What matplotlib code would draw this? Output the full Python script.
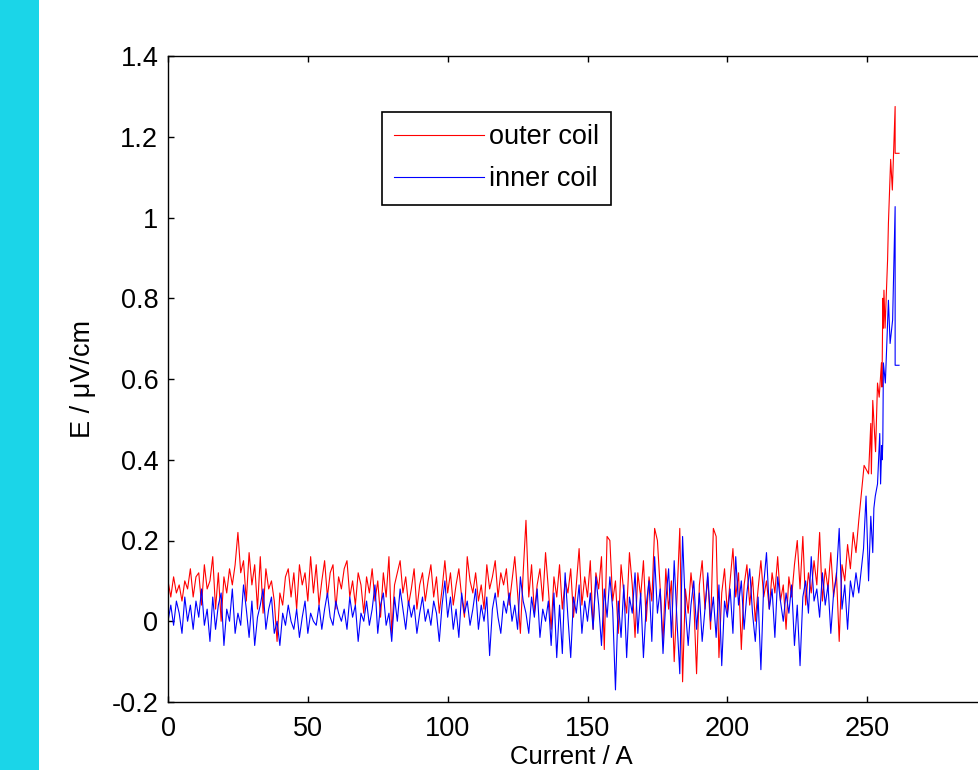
import numpy as np
import matplotlib
matplotlib.use("Agg")
import matplotlib.pyplot as plt
from matplotlib.patches import Rectangle
from matplotlib.ticker import FuncFormatter

plt.rcParams['font.family'] = ['Liberation Sans', 'DejaVu Sans']
plt.rcParams['axes.unicode_minus'] = False

# ---------------- data ----------------
# noisy part, sampled every 1 A from 0 A
e_outer_noise = [
    0.10, 0.06, 0.11, 0.07, 0.09, 0.05, 0.10, 0.08, 0.13, 0.06,
    0.11, 0.12, 0.04, 0.14, 0.08, 0.10, 0.16, 0.03, 0.12, 0.00,
    0.11, 0.07, 0.13, 0.09, 0.14, 0.22, 0.12, 0.15, 0.05, 0.17,
    0.09, 0.14, 0.03, 0.16, 0.02, 0.13, 0.08, 0.10, 0.05, -0.05,
    0.07, 0.04, 0.11, 0.13, 0.06, 0.12, 0.03, 0.14, 0.09, 0.12,
    0.05, 0.16, 0.07, 0.14, 0.04, 0.10, 0.15, 0.06, 0.12, 0.14,
    0.03, 0.11, 0.08, 0.13, 0.15, 0.06, 0.10, 0.04, 0.12, 0.09,
    0.02, 0.11, 0.07, 0.13, 0.05, 0.10, 0.01, 0.12, 0.06, 0.16,
    -0.03, 0.09, 0.12, 0.15, 0.07, 0.11, 0.04, 0.08, 0.13, 0.03,
    0.09, 0.12, 0.05, 0.10, 0.14, 0.06, 0.11, 0.02, 0.08, 0.15,
    0.07, 0.12, 0.04, 0.09, 0.13, 0.06, 0.01, 0.16, 0.10, 0.07,
    0.12, 0.05, 0.09, 0.03, 0.14, 0.08, 0.11, 0.15, 0.06, 0.12,
    0.09, 0.13, 0.04, 0.10, 0.16, 0.07, -0.03, 0.12, 0.25, 0.06,
    0.14, 0.02, 0.09, 0.13, 0.05, 0.17, 0.08, -0.02, 0.11, 0.06,
    0.14, 0.03, 0.10, 0.07, 0.13, 0.01, 0.09, 0.18, 0.04, 0.11,
    0.06, 0.15, -0.02, 0.12, 0.08, 0.16, -0.07, 0.21, 0.20, 0.05,
    0.10, -0.03, 0.14, 0.07, 0.02, 0.17, 0.09, -0.04, 0.12, 0.06,
    0.15, 0.00, 0.11, 0.05, 0.23, 0.20, 0.08, -0.05, 0.13, 0.03,
    0.10, -0.10, 0.06, 0.23, -0.15, 0.08, 0.02, 0.12, 0.05, -0.13,
    0.09, 0.15, 0.03, 0.11, -0.02, 0.23, 0.21, -0.09, 0.07, 0.13,
    0.02, 0.10, 0.18, 0.06, 0.12, -0.07, 0.09, 0.14, 0.04, 0.11,
    0.00, 0.08, 0.15, 0.06, 0.10, 0.03, 0.12, 0.07, 0.16, 0.05,
    0.09, -0.02, 0.11, 0.06, 0.14, 0.20, 0.08, 0.21, 0.04, 0.12,
    0.07, 0.15, 0.09, 0.22, 0.05, 0.13, 0.08, 0.17, 0.06, 0.12,
    -0.05, 0.14, 0.10, 0.19, 0.13, 0.22, 0.17, 0.25,
]
e_inner_noise = [
    0.00, 0.04, -0.01, 0.05, 0.02, -0.03, 0.06, 0.00, 0.04, -0.02,
    0.05, 0.01, 0.08, -0.01, 0.03, -0.05, 0.06, -0.02, 0.04, 0.07,
    -0.06, 0.03, 0.00, 0.08, -0.03, 0.02, -0.01, 0.09, 0.03, -0.04,
    0.05, -0.06, 0.01, 0.04, 0.08, -0.02, 0.03, 0.06, -0.03, 0.00,
    -0.06, 0.02, -0.01, 0.04, 0.00, -0.02, 0.03, -0.04, 0.01, 0.05,
    -0.03, 0.02, 0.00, -0.01, 0.04, -0.02, 0.03, 0.07, 0.01, -0.01,
    0.05, 0.02, 0.00, 0.03, -0.02, 0.06, 0.01, 0.04, -0.05, 0.02,
    0.00, 0.05, -0.01, 0.03, 0.09, -0.03, 0.04, 0.07, -0.01, 0.02,
    -0.05, 0.06, 0.00, 0.08, 0.03, -0.02, 0.05, 0.01, 0.04, -0.03,
    0.02, 0.06, 0.00, 0.03, -0.01, 0.05, 0.02, -0.05, 0.04, 0.10,
    0.01, 0.06, -0.02, 0.03, -0.04, 0.07, 0.02, 0.05, -0.01, 0.03,
    0.08, -0.02, 0.04, 0.00, 0.06, -0.085, 0.03, 0.07, 0.01, -0.03,
    0.05, 0.02, 0.07, 0.00, 0.04, -0.02, 0.11, 0.05, 0.02, -0.03,
    0.06, 0.01, 0.08, -0.04, 0.03, 0.00, 0.05, -0.06, 0.07, -0.09,
    0.04, -0.08, 0.12, 0.01, -0.09, 0.06, 0.02, 0.09, -0.03, 0.05,
    0.00, 0.07, -0.02, 0.11, 0.04, -0.06, 0.08, 0.01, 0.11, 0.03,
    -0.17, 0.05, -0.04, 0.09, -0.09, 0.06, 0.02, 0.12, -0.03, 0.07,
    -0.09, 0.04, 0.10, -0.05, 0.16, 0.02, 0.08, -0.08, 0.05, 0.13,
    -0.04, 0.15, 0.00, -0.13, 0.21, 0.03, -0.06, 0.04, 0.10, -0.02,
    0.07, -0.05, 0.03, 0.12, 0.00, 0.06, -0.04, 0.09, -0.11, 0.05,
    0.01, 0.08, -0.03, 0.16, 0.04, 0.10, -0.02, 0.07, 0.13, 0.02,
    -0.05, 0.06, -0.12, 0.09, 0.17, 0.03, 0.08, -0.04, 0.11, 0.05,
    0.00, 0.07, 0.02, 0.09, -0.06, 0.04, -0.11, 0.06, 0.10, 0.02,
    0.16, 0.05, 0.08, 0.01, 0.12, 0.04, 0.09, -0.03, 0.07, 0.11,
    0.23, 0.03, 0.09, -0.02, 0.10, 0.06, 0.12, 0.07,
]

# transition (quench) part, read point by point
i_outer_tail = [248.9, 250.5, 251.3, 251.5, 252.0, 253.0, 253.7, 254.3, 255.1, 255.3,
                255.6, 255.8, 256.0, 256.4, 257.3, 257.6, 258.4, 259.0, 260.0, 260.0, 261.4]
e_outer_tail = [0.386, 0.365, 0.49, 0.365, 0.547, 0.42, 0.59, 0.555, 0.64, 0.58,
                0.80, 0.726, 0.82, 0.726, 0.895, 0.986, 1.144, 1.068, 1.275, 1.159, 1.159]
i_inner_tail = [248.7, 249.6, 250.5, 251.3, 252.0, 252.4, 252.9, 253.7, 254.5, 254.8,
                255.2, 255.4, 255.6, 255.8, 256.5, 257.6, 258.2, 259.1, 260.0, 260.0, 261.4]
e_inner_tail = [0.18, 0.31, 0.10, 0.26, 0.17, 0.28, 0.31, 0.34, 0.465, 0.34,
                0.435, 0.40, 0.448, 0.64, 0.59, 0.795, 0.688, 0.746, 1.027, 0.634, 0.634]

labels = ["outer coil", "inner coil"]
x_ticks = [0, 50, 100, 150, 200, 250, 300]
y_ticks = [-0.2, 0, 0.2, 0.4, 0.6, 0.8, 1, 1.2, 1.4]

i_outer = np.concatenate([np.arange(len(e_outer_noise)), i_outer_tail])
e_outer = np.concatenate([e_outer_noise, e_outer_tail])
i_inner = np.concatenate([np.arange(len(e_inner_noise)), i_inner_tail])
e_inner = np.concatenate([e_inner_noise, e_inner_tail])

# ---------------- figure ----------------
W, H = 979, 770
FS = 19.5
fig = plt.figure(figsize=(W / 100, H / 100), dpi=100)
fig.patch.set_facecolor('white')
fig.patches.append(Rectangle((0, 0), 39 / W, 1, transform=fig.transFigure,
                             facecolor='#1BD5E8', edgecolor='none', zorder=0))

ax_left, ax_right, ax_top, ax_bot = 168, 1007, 56, 702
ax = fig.add_axes([ax_left / W, 1 - ax_bot / H, (ax_right - ax_left) / W, (ax_bot - ax_top) / H])

ax.plot(i_outer, e_outer, color='#FF0000', lw=0.8, label=labels[0])
ax.plot(i_inner, e_inner, color='#0000FF', lw=0.8, label=labels[1])

ax.set_xlim(0, 300)
ax.set_ylim(-0.2, 1.4)
ax.set_xticks(x_ticks)
ax.set_yticks(y_ticks)
ax.yaxis.set_major_formatter(FuncFormatter(lambda v, p: '%g' % round(v, 2)))
ax.xaxis.set_major_formatter(FuncFormatter(lambda v, p: '%g' % v))
ax.tick_params(direction='in', top=True, right=True, length=4, width=1,
               labelsize=FS, colors='black')
ax.tick_params(axis='x', pad=10)
ax.tick_params(axis='y', pad=7)
for s in ax.spines.values():
    s.set_linewidth(1.0)
    s.set_color('black')

ax.set_xlabel('Current / A', fontsize=18.5)
ax.xaxis.set_label_coords((571 - ax_left) / (ax_right - ax_left), -(757 - ax_bot) / (ax_bot - ax_top))
ax.xaxis.label.set_va('center')
ax.set_ylabel('E / μV/cm', fontsize=FS)
ax.yaxis.set_label_coords(-(168 - 83) / (ax_right - ax_left), 0.5)
ax.yaxis.label.set_va('center')

leg = ax.legend(loc='upper left',
                bbox_to_anchor=(382 / W, 1 - 112 / H), bbox_transform=fig.transFigure,
                fontsize=FS, frameon=True, fancybox=False, framealpha=1,
                edgecolor='black', handlelength=3.3, handletextpad=0.2,
                borderpad=0.45, labelspacing=0.6, borderaxespad=0)
leg.get_frame().set_linewidth(1.2)

fig.savefig('out.png', dpi=100)
